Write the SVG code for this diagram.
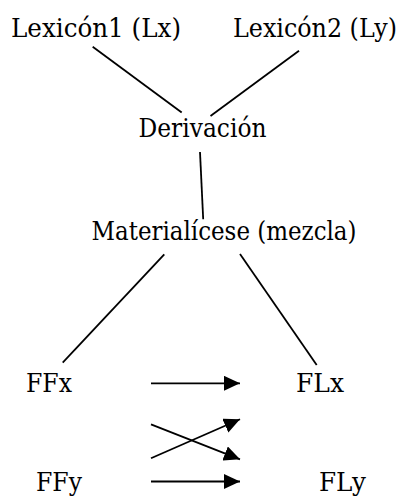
<svg xmlns="http://www.w3.org/2000/svg" width="406" height="497" viewBox="0 0 406 497">
  <style>
    text { font-family: "DejaVu Serif", "Liberation Serif", serif; font-size: 26px; fill: #000; }
    .edge { stroke: #000; stroke-width: 1.8; fill: none; stroke-linecap: butt; }
  </style>
  <defs>
    <marker id="arrow" markerUnits="userSpaceOnUse" markerWidth="16" markerHeight="15" refX="16" refY="7.5" orient="auto">
      <path d="M0,0 L16,7.5 L0,15 z" fill="#000"/>
    </marker>
  </defs>
  <rect width="406" height="497" fill="#fff"/>

  <g id="connectors">
    <line class="edge" x1="92.7" y1="46.7" x2="181.7" y2="112.5"/>
    <line class="edge" x1="299" y1="50.7" x2="210.5" y2="116"/>
    <line class="edge" x1="200" y1="152" x2="203.2" y2="219.3"/>
    <line class="edge" x1="164.3" y1="254.3" x2="62.7" y2="362.7"/>
    <line class="edge" x1="240" y1="254" x2="316.7" y2="365"/>
    <line class="edge" x1="151" y1="383.3" x2="240" y2="383.3" marker-end="url(#arrow)"/>
    <line class="edge" x1="151" y1="458.3" x2="240" y2="419.3" marker-end="url(#arrow)"/>
    <line class="edge" x1="151" y1="424.3" x2="240" y2="459.3" marker-end="url(#arrow)"/>
    <line class="edge" x1="151" y1="481.5" x2="240" y2="481.5" marker-end="url(#arrow)"/>
  </g>

  <g id="lexicon1"><text x="11" y="37" textLength="170" lengthAdjust="spacingAndGlyphs">Lexicón1 (Lx)</text></g>
  <g id="lexicon2"><text x="233" y="37" textLength="164" lengthAdjust="spacingAndGlyphs">Lexicón2 (Ly)</text></g>
  <g id="derivacion"><text x="138.5" y="137" textLength="128" lengthAdjust="spacingAndGlyphs">Derivación</text></g>
  <g id="materialicese"><text x="91.5" y="240" textLength="265" lengthAdjust="spacingAndGlyphs">Materialícese (mezcla)</text></g>
  <g id="ffx"><text x="26" y="392" textLength="46" lengthAdjust="spacingAndGlyphs">FFx</text></g>
  <g id="flx"><text x="296" y="392" textLength="48" lengthAdjust="spacingAndGlyphs">FLx</text></g>
  <g id="ffy"><text x="36" y="491" textLength="46" lengthAdjust="spacingAndGlyphs">FFy</text></g>
  <g id="fly"><text x="319" y="491" textLength="47" lengthAdjust="spacingAndGlyphs">FLy</text></g>
</svg>
